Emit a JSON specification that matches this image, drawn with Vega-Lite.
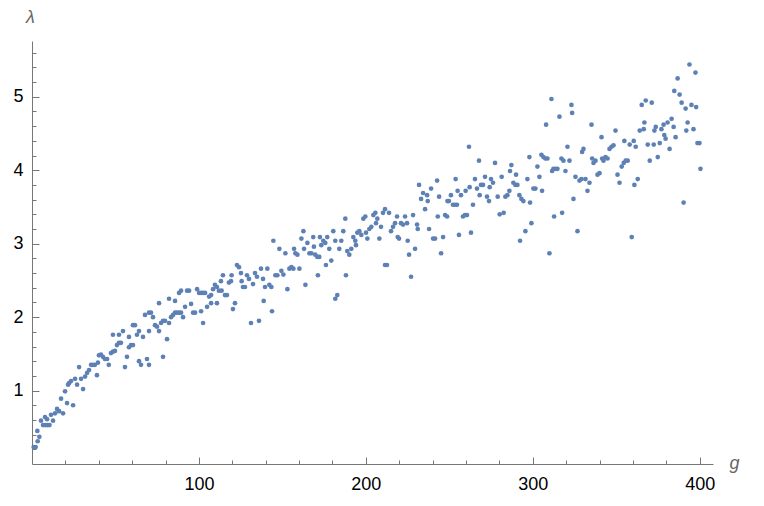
{
"$schema": "https://vega.github.io/schema/vega-lite/v6.json",
"autosize": {"type": "none"},
"padding": {"left": 32, "top": 41, "right": 51, "bottom": 42},
"width": 681,
"height": 423,
"background": "white",
"config": {"view": {"stroke": null}},
"data": {"values": [
{"g":1.0,"l":0.23},{"g":2.2,"l":0.23},{"g":3.4,"l":0.31},{"g":4.4,"l":0.37},{"g":3.2,"l":0.45},{"g":5.4,"l":0.59},{"g":6.6,"l":0.53},{"g":8.0,"l":0.53},{"g":9.4,"l":0.53},{"g":10.5,"l":0.53},{"g":7.8,"l":0.64},{"g":9.0,"l":0.61},{"g":11.4,"l":0.67},{"g":12.6,"l":0.59},{"g":13.8,"l":0.69},{"g":15.0,"l":0.75},{"g":16.2,"l":0.72},{"g":17.4,"l":0.89},{"g":18.6,"l":0.69},{"g":19.8,"l":0.99},{"g":21.0,"l":0.83},{"g":21.6,"l":1.08},{"g":22.2,"l":1.10},{"g":23.4,"l":1.13},{"g":24.6,"l":0.80},{"g":25.8,"l":1.16},{"g":27.0,"l":1.08},{"g":28.2,"l":1.32},{"g":29.4,"l":1.16},{"g":30.6,"l":1.02},{"g":31.8,"l":1.19},{"g":33.0,"l":1.24},{"g":34.2,"l":1.28},{"g":35.4,"l":1.35},{"g":36.5,"l":1.35},{"g":37.7,"l":1.35},{"g":38.9,"l":1.21},{"g":39.5,"l":1.38},{"g":40.1,"l":1.48},{"g":41.3,"l":1.49},{"g":42.5,"l":1.46},{"g":43.7,"l":1.43},{"g":45.0,"l":1.43},{"g":46.0,"l":1.35},{"g":47.3,"l":1.51},{"g":48.5,"l":1.53},{"g":49.7,"l":1.54},{"g":50.9,"l":1.62},{"g":52.1,"l":1.65},{"g":53.3,"l":1.65},{"g":48.5,"l":1.76},{"g":52.1,"l":1.76},{"g":54.5,"l":1.81},{"g":55.7,"l":1.32},{"g":56.9,"l":1.46},{"g":58.1,"l":1.59},{"g":59.3,"l":1.62},{"g":60.5,"l":1.62},{"g":58.1,"l":1.73},{"g":61.7,"l":1.89},{"g":60.5,"l":1.89},{"g":62.9,"l":1.76},{"g":64.1,"l":1.81},{"g":64.1,"l":1.40},{"g":65.3,"l":1.35},{"g":66.5,"l":1.73},{"g":67.7,"l":2.03},{"g":70.1,"l":2.06},{"g":68.9,"l":1.43},{"g":70.1,"l":1.35},{"g":70.1,"l":1.81},
{"g":71.3,"l":2.06},{"g":72.5,"l":2.00},{"g":73.7,"l":1.89},{"g":74.9,"l":1.87},{"g":76.1,"l":1.81},{"g":76.1,"l":2.19},{"g":77.3,"l":1.92},{"g":78.5,"l":1.95},{"g":79.7,"l":1.95},{"g":78.5,"l":1.46},{"g":80.9,"l":1.70},{"g":82.1,"l":2.25},{"g":82.1,"l":1.92},{"g":83.3,"l":2.00},{"g":84.5,"l":2.03},{"g":85.7,"l":2.06},{"g":86.9,"l":2.06},{"g":88.1,"l":2.06},{"g":89.3,"l":2.06},{"g":85.7,"l":2.22},{"g":90.5,"l":2.00},{"g":88.1,"l":2.33},{"g":89.3,"l":2.36},{"g":91.7,"l":2.14},{"g":92.9,"l":2.36},{"g":94.1,"l":2.36},{"g":95.3,"l":2.18},{"g":96.5,"l":2.06},{"g":97.7,"l":2.06},{"g":98.9,"l":2.38},{"g":100.1,"l":2.33},{"g":101.3,"l":2.33},{"g":102.5,"l":2.33},{"g":101.3,"l":2.08},{"g":102.5,"l":1.92},{"g":103.7,"l":2.33},{"g":104.9,"l":2.14},{"g":106.1,"l":2.28},{"g":107.3,"l":2.30},{"g":107.3,"l":2.19},{"g":108.5,"l":2.38},{"g":109.6,"l":2.44},{"g":110.8,"l":2.41},{"g":110.8,"l":2.19},{"g":112.0,"l":2.36},{"g":113.2,"l":2.49},{"g":113.6,"l":2.36},{"g":114.4,"l":2.57},{"g":115.6,"l":2.30},{"g":116.8,"l":2.30},{"g":118.0,"l":2.47},{"g":119.2,"l":2.49},{"g":119.6,"l":2.57},{"g":120.4,"l":2.11},{"g":121.6,"l":2.19},{"g":122.8,"l":2.71},{"g":124.0,"l":2.68},{"g":125.2,"l":2.60},{"g":125.6,"l":2.49},{"g":126.4,"l":2.41},{"g":127.6,"l":2.41},{"g":128.8,"l":2.57},{"g":130.0,"l":2.52},{"g":131.2,"l":1.92},{"g":132.4,"l":2.45},{"g":133.6,"l":2.60},{"g":134.8,"l":2.55},{"g":136.0,"l":1.95},{"g":137.2,"l":2.66},{"g":138.4,"l":2.52},{"g":138.8,"l":2.22},{"g":139.6,"l":2.41},
{"g":141.0,"l":2.66},{"g":142.2,"l":2.44},{"g":143.4,"l":2.41},{"g":143.8,"l":2.08},{"g":144.6,"l":3.04},{"g":145.8,"l":2.57},{"g":147.0,"l":2.57},{"g":148.2,"l":2.93},{"g":149.4,"l":2.63},{"g":150.6,"l":2.58},{"g":151.8,"l":2.87},{"g":153.0,"l":2.38},{"g":154.2,"l":2.66},{"g":155.4,"l":2.68},{"g":156.6,"l":2.66},{"g":157.0,"l":2.93},{"g":157.8,"l":2.87},{"g":159.0,"l":2.85},{"g":160.2,"l":2.66},{"g":161.4,"l":3.07},{"g":162.6,"l":3.17},{"g":163.0,"l":2.93},{"g":163.8,"l":2.44},{"g":165.0,"l":3.01},{"g":166.2,"l":2.87},{"g":167.4,"l":2.87},{"g":168.5,"l":3.09},{"g":168.9,"l":2.96},{"g":169.7,"l":2.85},{"g":170.9,"l":2.82},{"g":172.1,"l":2.82},{"g":171.3,"l":2.57},{"g":172.5,"l":3.09},{"g":173.3,"l":2.98},{"g":174.5,"l":3.04},{"g":175.7,"l":3.01},{"g":176.1,"l":2.71},{"g":176.9,"l":3.09},{"g":178.1,"l":2.93},{"g":179.3,"l":2.77},{"g":180.5,"l":3.17},{"g":181.7,"l":3.04},{"g":181.7,"l":2.25},{"g":182.9,"l":2.30},{"g":184.1,"l":2.93},{"g":185.3,"l":3.04},{"g":186.5,"l":3.17},{"g":187.7,"l":3.34},{"g":188.1,"l":2.57},{"g":188.9,"l":2.90},{"g":190.1,"l":2.85},{"g":191.3,"l":2.93},{"g":192.5,"l":3.09},{"g":193.7,"l":3.04},{"g":194.1,"l":2.98},{"g":194.9,"l":3.15},{"g":196.1,"l":3.17},{"g":197.3,"l":3.12},{"g":198.5,"l":3.34},{"g":199.7,"l":3.37},{"g":200.1,"l":3.15},{"g":200.9,"l":3.07},{"g":202.1,"l":3.20},{"g":203.3,"l":3.23},{"g":204.5,"l":3.39},{"g":205.7,"l":3.42},{"g":206.1,"l":3.28},{"g":206.9,"l":3.34},{"g":208.1,"l":3.07},
{"g":209.1,"l":3.23},{"g":210.3,"l":3.42},{"g":211.5,"l":3.47},{"g":211.5,"l":2.71},{"g":212.7,"l":2.71},{"g":213.9,"l":3.42},{"g":215.1,"l":3.17},{"g":216.3,"l":3.23},{"g":217.5,"l":3.28},{"g":218.7,"l":3.37},{"g":219.1,"l":3.09},{"g":219.9,"l":3.07},{"g":221.1,"l":3.28},{"g":222.3,"l":3.26},{"g":223.5,"l":3.37},{"g":224.7,"l":3.28},{"g":225.1,"l":3.04},{"g":225.9,"l":2.85},{"g":227.1,"l":2.55},{"g":228.3,"l":3.39},{"g":229.5,"l":2.93},{"g":230.7,"l":3.26},{"g":231.1,"l":3.20},{"g":231.9,"l":3.80},{"g":233.1,"l":3.61},{"g":234.3,"l":3.69},{"g":235.5,"l":3.47},{"g":236.7,"l":3.66},{"g":237.1,"l":3.58},{"g":237.9,"l":3.20},{"g":239.1,"l":3.75},{"g":240.3,"l":3.07},{"g":241.5,"l":3.07},{"g":242.7,"l":3.86},{"g":243.1,"l":3.37},{"g":243.9,"l":3.64},{"g":245.1,"l":2.87},{"g":246.3,"l":3.09},{"g":247.5,"l":3.39},{"g":248.7,"l":3.37},{"g":248.9,"l":3.58},{"g":249.8,"l":3.58},{"g":251.0,"l":3.66},{"g":252.2,"l":3.53},{"g":253.4,"l":3.53},{"g":254.6,"l":3.53},{"g":253.8,"l":3.88},{"g":255.0,"l":3.72},{"g":255.8,"l":3.12},{"g":257.0,"l":3.66},{"g":258.2,"l":3.37},{"g":259.4,"l":3.39},{"g":260.6,"l":3.39},{"g":259.8,"l":3.72},{"g":261.8,"l":4.32},{"g":262.2,"l":3.77},{"g":263.0,"l":3.15},{"g":264.2,"l":3.53},{"g":265.4,"l":3.88},{"g":266.6,"l":3.75},{"g":267.8,"l":4.13},{"g":268.2,"l":3.66},{"g":269.0,"l":3.80},{"g":270.2,"l":3.80},{"g":271.4,"l":3.91},{"g":272.6,"l":3.64},{"g":273.8,"l":3.58},{"g":274.2,"l":3.77},{"g":275.0,"l":3.88},{"g":276.2,"l":3.83},{"g":277.4,"l":4.10},
{"g":279.0,"l":3.64},{"g":280.2,"l":3.40},{"g":282.6,"l":3.42},{"g":281.4,"l":3.91},{"g":283.6,"l":3.64},{"g":284.8,"l":3.66},{"g":286.0,"l":3.72},{"g":286.4,"l":3.99},{"g":287.2,"l":4.07},{"g":288.4,"l":3.83},{"g":289.6,"l":3.80},{"g":290.8,"l":3.80},{"g":290.0,"l":3.94},{"g":292.0,"l":3.66},{"g":293.2,"l":3.61},{"g":294.4,"l":3.58},{"g":292.4,"l":3.04},{"g":295.6,"l":3.17},{"g":296.8,"l":3.88},{"g":298.0,"l":4.18},{"g":298.4,"l":3.56},{"g":299.2,"l":3.28},{"g":300.4,"l":3.75},{"g":301.6,"l":3.75},{"g":302.8,"l":4.05},{"g":304.0,"l":3.91},{"g":305.2,"l":4.21},{"g":306.4,"l":4.18},{"g":307.6,"l":4.16},{"g":308.8,"l":4.16},{"g":305.6,"l":3.72},{"g":308.0,"l":4.62},{"g":310.0,"l":2.87},{"g":311.2,"l":4.97},{"g":311.6,"l":3.99},{"g":312.4,"l":4.02},{"g":313.6,"l":4.02},{"g":314.8,"l":4.02},{"g":312.8,"l":3.37},{"g":316.0,"l":4.73},{"g":317.2,"l":4.16},{"g":318.4,"l":4.13},{"g":317.6,"l":3.42},{"g":319.6,"l":3.99},{"g":320.8,"l":4.32},{"g":322.0,"l":4.13},{"g":323.2,"l":4.89},{"g":323.6,"l":4.78},{"g":324.4,"l":3.61},{"g":325.6,"l":3.91},{"g":326.8,"l":3.17},{"g":328.0,"l":3.86},{"g":329.2,"l":3.88},{"g":331.6,"l":3.88},{"g":329.6,"l":4.25},{"g":330.4,"l":4.29},{"g":332.8,"l":3.72},{"g":334.0,"l":3.83},{"g":335.2,"l":4.62},{"g":335.6,"l":4.16},{"g":336.4,"l":4.10},{"g":337.6,"l":4.13},{"g":338.8,"l":3.94},{"g":340.0,"l":3.96},{"g":341.2,"l":4.45},{"g":341.6,"l":4.16},{"g":342.4,"l":4.13},{"g":343.6,"l":4.18},{"g":344.8,"l":4.16},{"g":346.0,"l":4.29},
{"g":347.2,"l":4.32},{"g":348.4,"l":4.34},{"g":349.6,"l":4.54},{"g":350.8,"l":3.94},{"g":352.0,"l":3.83},{"g":353.3,"l":4.05},{"g":354.5,"l":4.10},{"g":355.7,"l":4.13},{"g":356.9,"l":4.13},{"g":354.9,"l":4.40},{"g":358.1,"l":4.35},{"g":359.3,"l":3.09},{"g":360.5,"l":4.40},{"g":361.7,"l":4.32},{"g":360.9,"l":3.80},{"g":362.9,"l":3.88},{"g":364.1,"l":4.54},{"g":366.5,"l":4.56},{"g":366.9,"l":4.65},{"g":365.3,"l":4.89},{"g":367.7,"l":4.95},{"g":371.3,"l":4.92},{"g":368.9,"l":4.35},{"g":372.5,"l":4.35},{"g":370.1,"l":4.13},{"g":372.9,"l":4.54},{"g":373.7,"l":4.59},{"g":374.9,"l":4.18},{"g":376.1,"l":4.37},{"g":377.1,"l":4.56},{"g":378.4,"l":4.62},{"g":378.8,"l":4.48},{"g":379.6,"l":4.43},{"g":380.8,"l":4.65},{"g":382.0,"l":4.29},{"g":383.2,"l":4.70},{"g":384.4,"l":4.59},{"g":384.8,"l":5.08},{"g":385.6,"l":4.45},{"g":386.8,"l":5.25},{"g":388.0,"l":5.03},{"g":389.2,"l":4.92},{"g":390.4,"l":3.56},{"g":391.6,"l":4.84},{"g":392.0,"l":4.54},{"g":392.8,"l":4.65},{"g":393.9,"l":5.44},{"g":395.1,"l":4.89},{"g":396.3,"l":4.56},{"g":397.5,"l":5.33},{"g":397.9,"l":4.86},{"g":398.7,"l":4.37},{"g":399.9,"l":4.37},{"g":400.5,"l":4.02}
]},
"mark": {"type": "point", "filled": true, "size": 22, "color": "#5E81B5", "opacity": 1, "strokeWidth": 0},
"encoding": {
"x": {"field": "g", "type": "quantitative", "scale": {"domain": [0, 408], "nice": false, "zero": false},
"axis": {"title": "g", "titleFont": "Liberation Sans", "titleFontStyle": "italic", "titleFontWeight": "normal", "titleFontSize": 18, "titleColor": "#666666", "titleX": 697, "titleY": 4, "titleAlign": "left", "titleBaseline": "alphabetic", "titleAngle": 0,
"values": [20,40,60,80,100,120,140,160,180,200,220,240,260,280,300,320,340,360,380,400],
"labelExpr": "datum.value % 100 === 0 ? format(datum.value, 'd') : ''",
"labelFont": "Liberation Sans", "labelFontSize": 18, "labelColor": "#000000", "labelPadding": 18, "labelBaseline": "top",
"grid": false, "domainColor": "#777777", "domainWidth": 1, "tickColor": "#777777", "tickWidth": 1,
"tickSize": {"condition": {"test": "datum.value % 100 === 0", "value": -7}, "value": -4}}},
"y": {"field": "l", "type": "quantitative", "scale": {"domain": [0, 5.76], "nice": false, "zero": false},
"axis": {"title": "λ", "titleFont": "Liberation Sans", "titleFontStyle": "italic", "titleFontWeight": "normal", "titleFontSize": 18, "titleColor": "#666666", "titleX": -2, "titleY": -19, "titleAlign": "center", "titleBaseline": "alphabetic", "titleAngle": 0,
"values": [0.2,0.4,0.6,0.8,1,1.2,1.4,1.6,1.8,2,2.2,2.4,2.6,2.8,3,3.2,3.4,3.6,3.8,4,4.2,4.4,4.6,4.8,5,5.2,5.4,5.6],
"labelExpr": "abs(datum.value - round(datum.value)) < 0.01 ? format(datum.value, 'd') : ''",
"labelFont": "Liberation Sans", "labelFontSize": 18, "labelColor": "#000000", "labelPadding": 16,
"grid": false, "domainColor": "#777777", "domainWidth": 1, "tickColor": "#777777", "tickWidth": 1,
"tickSize": {"condition": {"test": "abs(datum.value - round(datum.value)) < 0.01", "value": -7}, "value": -4}}}
}
}
